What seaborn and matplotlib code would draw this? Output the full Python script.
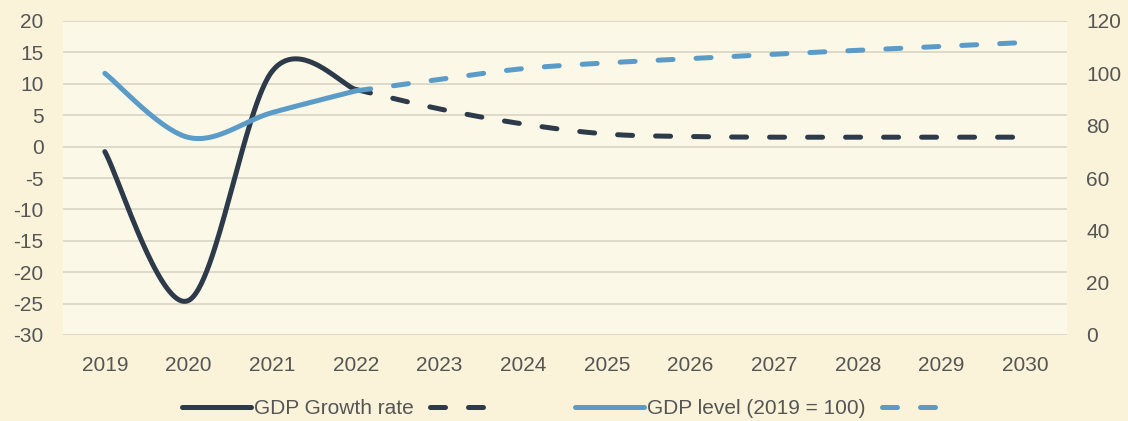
import numpy as np
import pandas as pd
import matplotlib
matplotlib.use("Agg")
import matplotlib.pyplot as plt
import seaborn as sns

# Annual GDP series: outturn to 2022, projection from 2022 to 2030
hist_years = [2019, 2020, 2021, 2022]
proj_years = [2022, 2023, 2024, 2025, 2026, 2027, 2028, 2029, 2030]
growth_hist = [-0.8, -24.5, 12.0, 9.1]
growth_proj = [9.1, 6.0, 3.6, 2.0, 1.6, 1.5, 1.5, 1.5, 1.5]
level_hist = [100.0, 75.5, 85.0, 93.3]
level_proj = [93.3, 97.7, 101.8, 104.0, 105.6, 107.3, 108.8, 110.3, 111.8]
year_labels = [str(y) for y in range(2019, 2031)]
growth_ticks = [-30, -25, -20, -15, -10, -5, 0, 5, 10, 15, 20]
level_ticks = [0, 20, 40, 60, 80, 100, 120]

DARK = "#2C3A4A"
BLUE = "#5A9BC8"
TEXT = "#555555"
OUTER_BG = "#FAF3D9"
INNER_BG = "#FCF8E7"
GRID = "#D9D4C5"


def smooth(xs, ys, n=60):
    """Cubic Bezier smoothing through every point (spreadsheet-style curve)."""
    p = np.column_stack([xs, ys]).astype(float)
    ext = np.vstack([p[0], p, p[-1]])
    t = np.linspace(0, 1, n)[:, None]
    out = []
    for i in range(len(p) - 1):
        p0, p1, p2, p3 = ext[i], ext[i + 1], ext[i + 2], ext[i + 3]
        c1 = p1 + (p2 - p0) / 6.0
        c2 = p2 - (p3 - p1) / 6.0
        seg = ((1 - t) ** 3) * p1 + 3 * ((1 - t) ** 2) * t * c1 \
            + 3 * (1 - t) * t ** 2 * c2 + t ** 3 * p2
        out.append(seg if i == 0 else seg[1:])
    arr = np.vstack(out)
    return pd.DataFrame({"year": arr[:, 0], "value": arr[:, 1]})


sns.set_theme(style="white")
plt.rcParams["font.family"] = ["Liberation Sans", "DejaVu Sans"]
plt.rcParams["font.size"] = 15

fig = plt.figure(figsize=(11.28, 4.21), dpi=100, facecolor=OUTER_BG)
ax = fig.add_axes([63 / 1128, 1 - 335 / 421, (1067 - 63) / 1128, (335 - 21) / 421])
ax.set_facecolor(INNER_BG)
ax2 = ax.twinx()
ax2.patch.set_visible(False)

LW = 3.6
DASH = (0, (3.0, 4.6))

sns.lineplot(data=smooth(hist_years, growth_hist), x="year", y="value", ax=ax,
             color=DARK, lw=LW, sort=False, estimator=None,
             solid_capstyle="round")
sns.lineplot(data=smooth(proj_years, growth_proj), x="year", y="value", ax=ax,
             color=DARK, lw=LW, sort=False, estimator=None,
             linestyle=DASH, dash_capstyle="round")
sns.lineplot(data=smooth(hist_years, level_hist), x="year", y="value", ax=ax2,
             color=BLUE, lw=LW, sort=False, estimator=None,
             solid_capstyle="round")
sns.lineplot(data=smooth(proj_years, level_proj), x="year", y="value", ax=ax2,
             color=BLUE, lw=LW, sort=False, estimator=None,
             linestyle=DASH, dash_capstyle="round")

ax.set_xlim(2018.5, 2030.5)
ax.set_ylim(-30, 20)
ax2.set_ylim(0, 120)
ax.set_xticks(range(2019, 2031))
ax.set_xticklabels(year_labels)
ax.set_yticks(growth_ticks)
ax.set_yticklabels([str(v) for v in growth_ticks])
ax2.set_yticks(level_ticks)
ax2.set_yticklabels([str(v) for v in level_ticks])
ax.set_xlabel("")
ax.set_ylabel("")
ax2.set_ylabel("")

ax.grid(axis="y", color=GRID, lw=1.2)
ax.grid(axis="x", visible=False)
ax2.grid(False)
ax.set_axisbelow(True)
for a in (ax, ax2):
    for s in a.spines.values():
        s.set_visible(False)
ax.tick_params(axis="y", length=0, pad=14, labelsize=15, labelcolor=TEXT)
ax.tick_params(axis="x", length=0, pad=15, labelsize=15, labelcolor=TEXT)
ax2.tick_params(axis="y", length=0, pad=14, labelsize=15, labelcolor=TEXT)

lines = ax.get_lines()
lines2 = ax2.get_lines()
common = dict(frameon=False, ncol=2, handlelength=3.3, handletextpad=0.15,
              columnspacing=0.8, borderpad=0, borderaxespad=0,
              fontsize=15, labelcolor=TEXT, loc="center left")
fig.legend([lines[0], lines[1]], ["GDP Growth rate", ""],
           bbox_to_anchor=(182 / 1128, 1 - 409 / 421), **common)
fig.legend([lines2[0], lines2[1]], ["GDP level (2019 = 100)", ""],
           bbox_to_anchor=(575 / 1128, 1 - 409 / 421), **common)

fig.savefig("out.png", dpi=100, facecolor=OUTER_BG)
